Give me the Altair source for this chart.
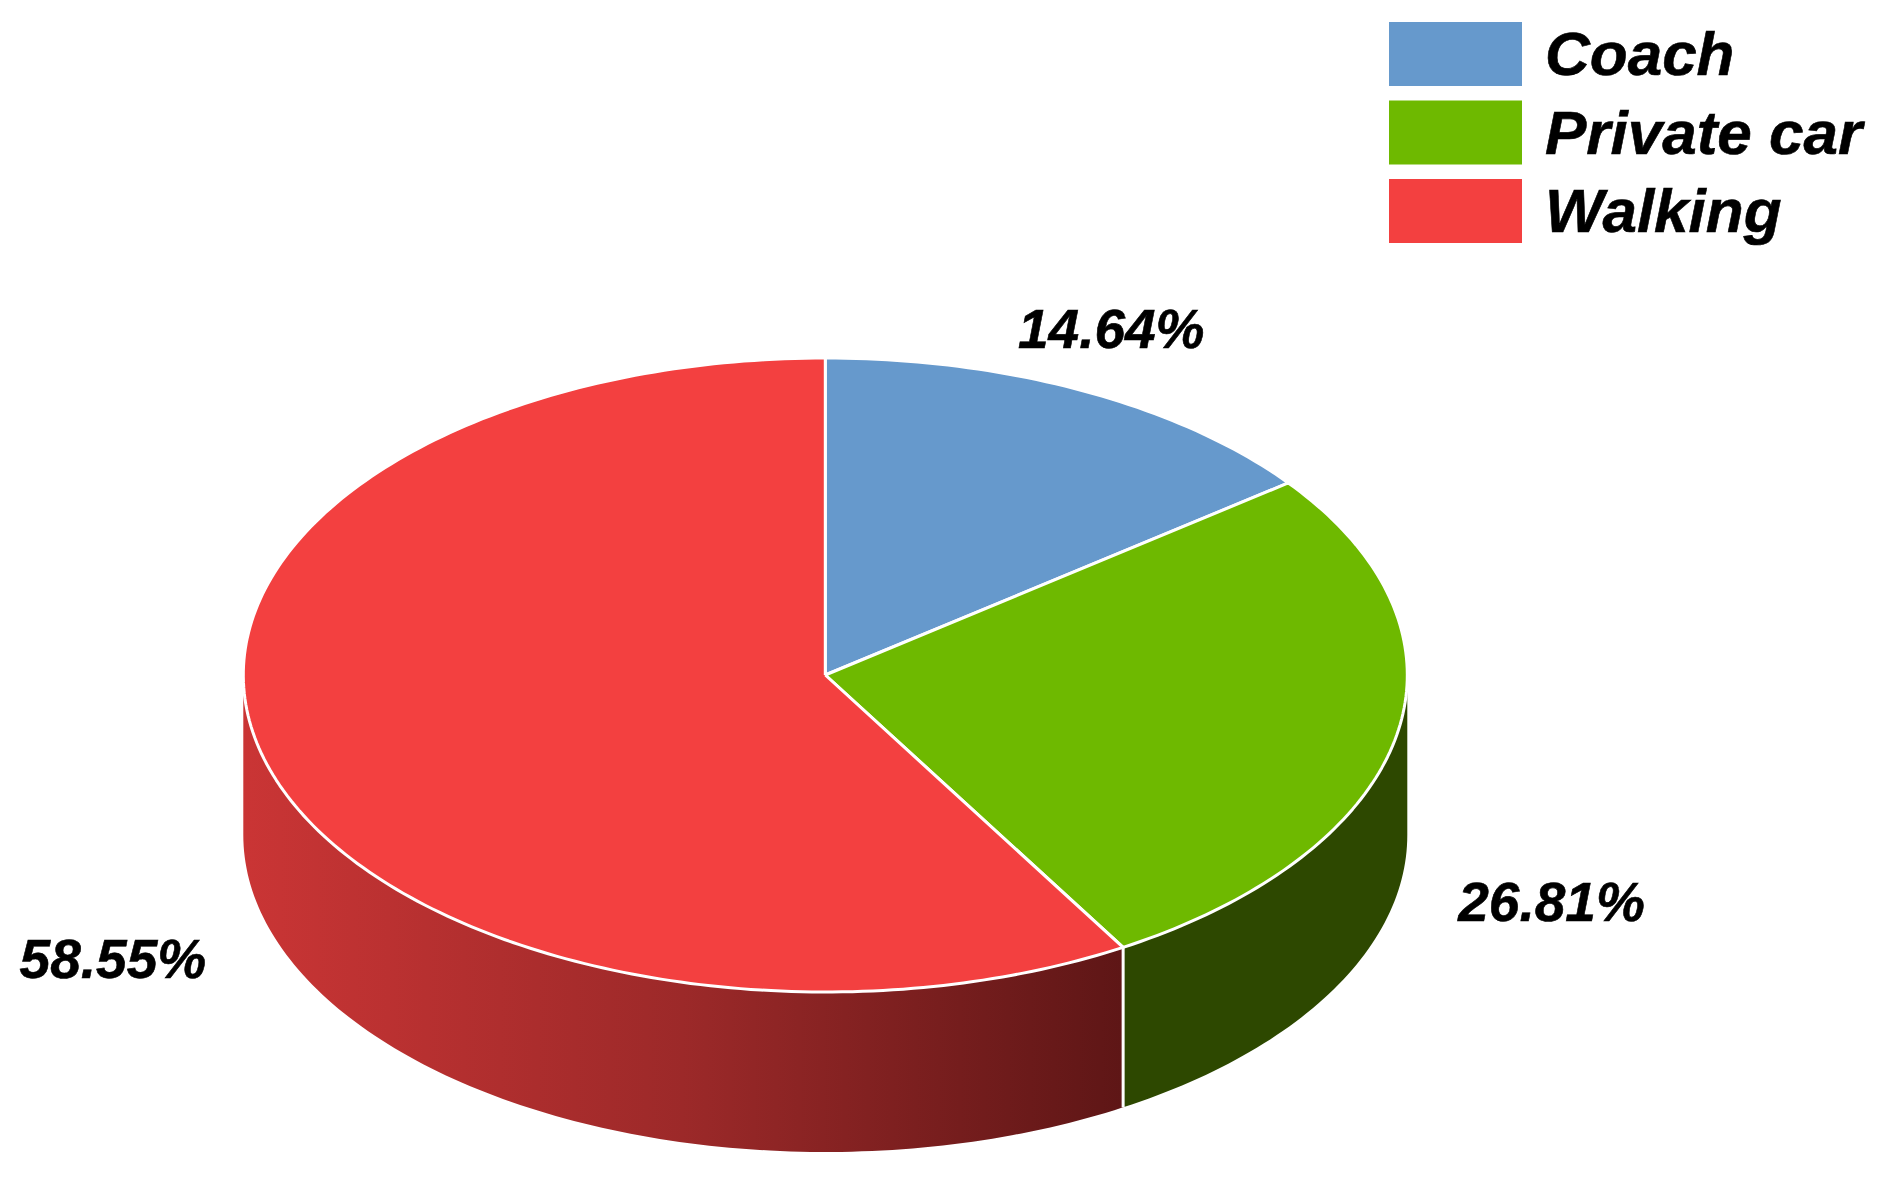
import math
import altair as alt
import pandas as pd

categories = ["Coach", "Private car", "Walking"]
shares = [14.64, 26.81, 58.55]
top_colors = ["#6699CC", "#6EB900", "#F34040"]
wall_start = "#CA3535"
wall_mid = "#9C2929"
wall_end = "#5E1616"
wall_green = "#2D4800"
label_nudges = [(-37, 11), (12, -6), (-11, 21)]

W, H = 1865, 1175
CX, CY, RX, RY, DEPTH = 825.3, 675.0, 582.0, 317.0, 160.0
FONT = "Liberation Sans"

x_enc = alt.X("x:Q", axis=None, scale=alt.Scale(domain=[8, 8 + W]))
y_enc = alt.Y("y:Q", axis=None, scale=alt.Scale(domain=[8 + H, 8]))


def pt(a):
    r = math.radians(a)
    return CX + RX * math.sin(r), CY - RY * math.cos(r)


def arc_angles(a0, a1, step=1.0):
    n = max(2, int(abs(a1 - a0) / step))
    return [a0 + (a1 - a0) * i / n for i in range(n + 1)]


layers = []
edges = [0.0]
for s in shares:
    edges.append(edges[-1] + s * 3.6)

# side walls: only the part of the rim on the front half is visible
walk_a0, walk_a1 = edges[2], 270.0
walk_wall = pd.DataFrame(
    [{"x": pt(a)[0], "y": pt(a)[1], "y2": pt(a)[1] + DEPTH} for a in arc_angles(walk_a1, walk_a0)]
)
layers.append(
    alt.Chart(walk_wall)
    .mark_area(
        color=alt.Gradient(
            gradient="linear",
            stops=[
                alt.GradientStop(color=wall_start, offset=0),
                alt.GradientStop(color=wall_mid, offset=0.5),
                alt.GradientStop(color=wall_end, offset=1),
            ],
            x1=0, x2=1, y1=0, y2=0,
        )
    )
    .encode(x=x_enc, y=y_enc, y2="y2:Q")
)
car_wall = pd.DataFrame(
    [{"x": pt(a)[0], "y": pt(a)[1], "y2": pt(a)[1] + DEPTH} for a in arc_angles(edges[2], 90.0)]
)
layers.append(
    alt.Chart(car_wall).mark_area(color=wall_green).encode(x=x_enc, y=y_enc, y2="y2:Q")
)
seam_x, seam_y = pt(edges[2])
layers.append(
    alt.Chart(pd.DataFrame([{"x": seam_x, "y": seam_y, "y2": seam_y + DEPTH}]))
    .mark_rule(color="white", strokeWidth=3)
    .encode(x=x_enc, y=y_enc, y2="y2:Q")
)

# top face
for i, c in enumerate(top_colors):
    pts = [(CX, CY)] + [pt(a) for a in arc_angles(edges[i], edges[i + 1])] + [(CX, CY)]
    d = pd.DataFrame([{"x": p[0], "y": p[1], "i": k} for k, p in enumerate(pts)])
    layers.append(
        alt.Chart(d)
        .mark_line(fill=c, stroke="white", strokeWidth=3, strokeJoin="round")
        .encode(x=x_enc, y=y_enc, order="i:Q")
    )

# percentage labels
rows = []
for i, s in enumerate(shares):
    mid = (edges[i] + edges[i + 1]) / 2
    r = math.radians(mid)
    x = CX + RX * 1.25 * math.sin(r) + label_nudges[i][0]
    y = CY - RY * 1.25 * math.cos(r) + label_nudges[i][1]
    if math.cos(r) < 0:
        y += DEPTH
    rows.append({"x": x, "y": y, "t": f"{s:.2f}%"})
layers.append(
    alt.Chart(pd.DataFrame(rows))
    .mark_text(font=FONT, fontSize=55, fontWeight="bold", fontStyle="italic", color="black",
               stroke="black", strokeWidth=0.6)
    .encode(x=x_enc, y=y_enc, text="t:N")
)

# legend
LEG_X0, LEG_X1, LEG_Y0, LEG_H, LEG_STEP, LEG_TX = 1389, 1522, 22, 64, 78.5, 1545
leg = pd.DataFrame(
    [
        {
            "x": LEG_X0, "x2": LEG_X1,
            "y": LEG_Y0 + LEG_STEP * i, "y2": LEG_Y0 + LEG_STEP * i + LEG_H,
            "tx": LEG_TX, "ty": LEG_Y0 + LEG_STEP * i + LEG_H / 2 + 2,
            "name": n,
        }
        for i, n in enumerate(categories)
    ]
)
layers.append(
    alt.Chart(leg)
    .mark_rect()
    .encode(
        x=x_enc, x2="x2:Q", y=y_enc, y2="y2:Q",
        color=alt.Color("name:N", legend=None,
                        scale=alt.Scale(domain=categories, range=top_colors)),
    )
)
layers.append(
    alt.Chart(leg)
    .mark_text(font=FONT, fontSize=62, fontWeight="bold", fontStyle="italic", color="black", align="left",
               stroke="black", strokeWidth=0.6)
    .encode(
        x=alt.X("tx:Q", axis=None, scale=alt.Scale(domain=[8, 8 + W])),
        y=alt.Y("ty:Q", axis=None, scale=alt.Scale(domain=[8 + H, 8])),
        text="name:N",
    )
)

chart = (
    alt.layer(*layers)
    .properties(width=W, height=H, padding=0, autosize=alt.AutoSizeParams(type="none"))
    .configure_view(stroke=None)
)
chart.save("out.html", embed_options={"renderer": "svg", "actions": False})
